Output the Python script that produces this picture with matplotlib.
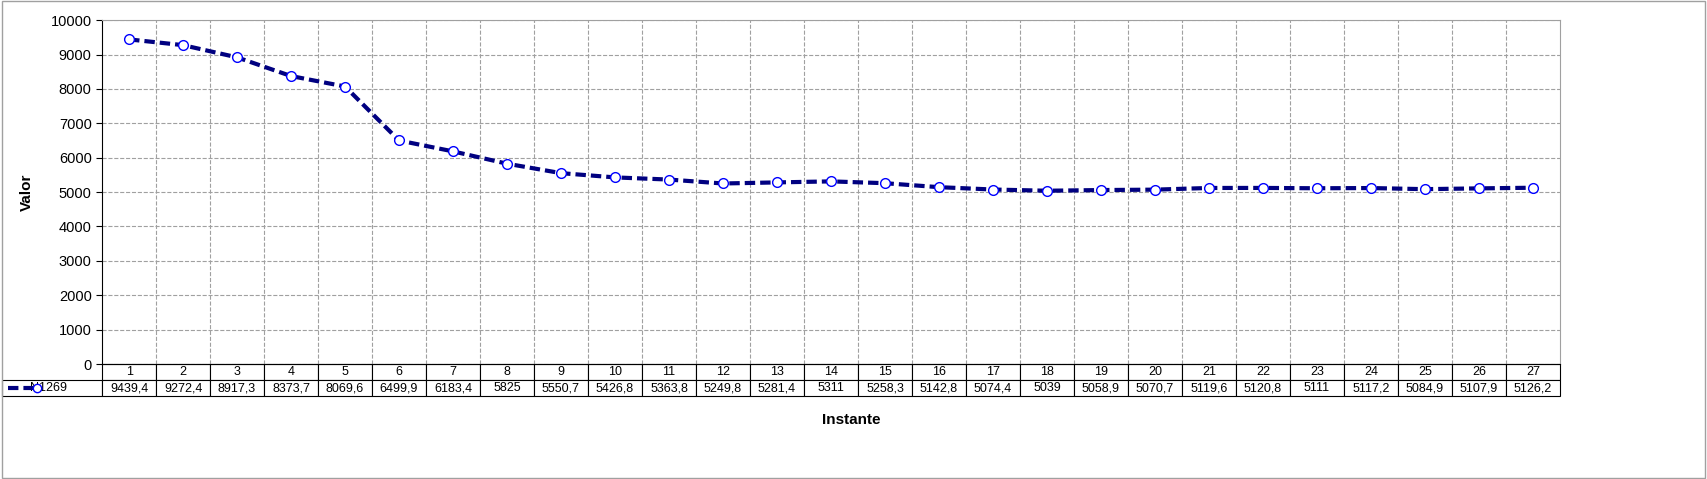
import matplotlib
matplotlib.use('Agg')
import matplotlib.pyplot as plt
from matplotlib.lines import Line2D
from matplotlib.patches import Rectangle

instantes = list(range(1, 28))
n1269 = [9439.4, 9272.4, 8917.3, 8373.7, 8069.6, 6499.9, 6183.4, 5825, 5550.7,
         5426.8, 5363.8, 5249.8, 5281.4, 5311, 5258.3, 5142.8, 5074.4, 5039,
         5058.9, 5070.7, 5119.6, 5120.8, 5111, 5117.2, 5084.9, 5107.9, 5126.2]
labels = ['9439,4', '9272,4', '8917,3', '8373,7', '8069,6', '6499,9', '6183,4', '5825',
          '5550,7', '5426,8', '5363,8', '5249,8', '5281,4', '5311', '5258,3', '5142,8',
          '5074,4', '5039', '5058,9', '5070,7', '5119,6', '5120,8', '5111', '5117,2',
          '5084,9', '5107,9', '5126,2']

plt.rcParams['font.family'] = 'Liberation Sans'
fig = plt.figure(figsize=(17.07, 4.79), dpi=100)
fig.patches.append(Rectangle((0.001, 0.002), 0.998, 0.996, transform=fig.transFigure,
                             fill=False, edgecolor='#a0a0a0', lw=1))
ax = fig.add_axes([0.0598, 0.240, 0.854, 0.718])
x = list(range(len(n1269)))
ax.plot(x, n1269, color='#000080', lw=3, ls=(0, (2.5, 1.2)), marker='o', ms=7,
        mfc='white', mec='#0000ff', mew=1, zorder=3)
ax.set_xlim(-0.5, len(n1269) - 0.5)
ax.set_ylim(0, 10000)
ax.set_yticks(range(0, 10001, 1000))
ax.set_xticks([i + 0.5 for i in x[:-1]])
ax.set_xticklabels([])
ax.tick_params(axis='x', length=0)
ax.tick_params(axis='y', labelsize=10.5, length=4)
ax.grid(True, ls='--', color='#a0a0a0', lw=0.8)
for s in ['top', 'right']:
    ax.spines[s].set_color('#a0a0a0')
ax.set_ylabel('Valor', fontsize=11, fontweight='bold', labelpad=12)

label_w = 100 / 1458
cells = [[''] + [str(i) for i in instantes], ['N1269  '] + labels]
tab = ax.table(cellText=cells, cellLoc='center',
               colWidths=[label_w] + [1 / 27] * 27,
               bbox=[-label_w, -0.093, 1 + label_w, 0.093])
tab.auto_set_font_size(False)
tab.set_fontsize(9)
for (r, c), cell in tab.get_celld().items():
    cell.set_linewidth(0.8)
    if r == 0 and c == 0:
        cell.set_edgecolor('none')
ax.add_line(Line2D([-label_w + 0.004, -label_w + 0.024], [-0.07, -0.07],
                   transform=ax.transAxes, clip_on=False, color='#000080', lw=3,
                   ls=(0, (2.5, 1.2)), marker='o', markevery=[1], ms=6,
                   mfc='white', mec='#0000ff'))
fig.text(0.4985, 0.115, 'Instante', ha='center', fontsize=11, fontweight='bold')
fig.savefig('out.png', dpi=100)
